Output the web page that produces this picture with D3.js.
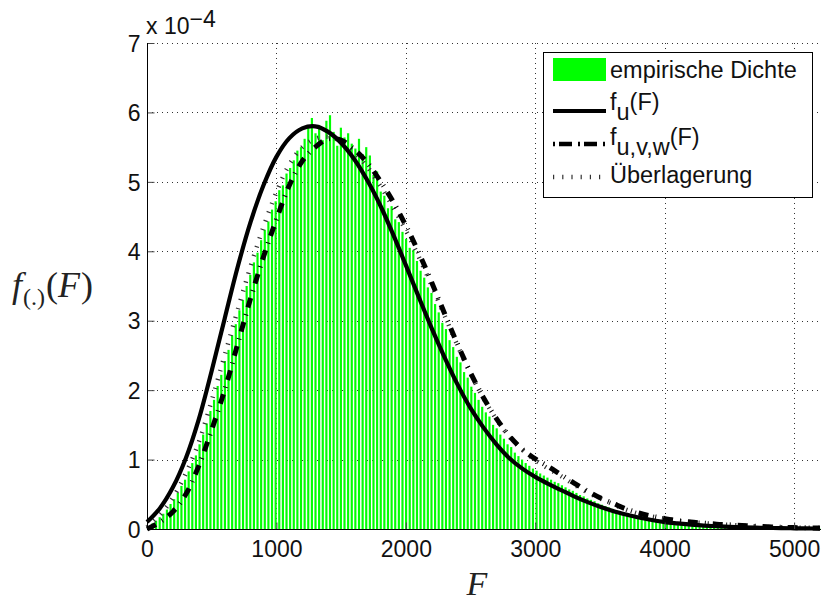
<!DOCTYPE html>
<html>
<head>
<meta charset="utf-8">
<script src="https://cdn.jsdelivr.net/npm/d3@7"></script>
<style>
  body { margin: 0; background: #fff; }
  svg { display: block; }
  .tick text { font-family: "Liberation Sans", Arial, sans-serif; }
</style>
</head>
<body>
<div id="viz-area"></div>
<script>
// values in units of 1e-4
const BIN = 28;   // histogram bin width (F units)
const barValues = [
  0.04,0.08,0.12,0.17,0.22,0.28,0.36,0.43,0.52,0.62,0.71,0.83,0.95,1.06,
  1.22,1.36,1.52,1.70,1.86,2.06,2.22,2.42,2.58,2.79,2.95,3.15,3.30,3.50,3.66,
  3.84,3.98,4.16,4.31,4.43,4.60,4.72,4.88,4.95,5.12,5.20,5.31,5.45,5.50,5.62,
  5.78,5.92,5.70,5.82,5.60,5.88,5.96,5.72,5.52,5.78,5.64,5.70,5.55,5.48,5.62,
  5.40,5.50,5.38,5.10,5.15,4.86,4.80,4.62,4.65,4.46,4.42,4.28,4.18,4.05,4.02,
  3.86,3.72,3.62,3.48,3.40,3.24,3.12,2.97,2.88,2.72,2.62,2.48,2.40,2.26,2.18,
  2.05,1.96,1.86,1.76,1.68,1.62,1.50,1.45,1.36,1.30,1.22,1.18,1.10,1.05,1.00,
  0.95,0.91,0.87,0.84,0.80,0.77,0.74,0.71,0.68,0.66,0.63,0.60,0.57,0.55,0.52,
  0.49,0.47,0.44,0.42,0.40,0.37,0.35,0.33,0.31,0.29,0.27,0.25,0.23,0.22,0.20,
  0.18,0.17,0.16,0.15,0.14,0.13,0.12,0.11,0.10,0.10,0.09,0.09,0.08,0.08,0.07,
  0.07,0.06,0.06,0.05,0.05,0.05,0.04,0.04,
  0.04,0.04,0.03,0.03,0.03,0.03,0.03,0.02,0.02,0.02,0.02,0.02,0.02,0.02,
  0.01,0.01,0.01,0.01,0.01,0.01,0.01,0.01,0.01,0.01,0.01,0.01,0.01,0.01,0.01
];

const curveF = [0,100,200,300,400,500,600,700,800,900,1000,1100,1200,1300,1400,1500,1600,1700,1800,1900,
  2000,2100,2200,2300,2400,2500,2600,2700,2800,2900,3000,3100,3200,3300,3400,3500,3600,3700,3800,3900,
  4000,4100,4200,4300,4400,4500,4600,4700,4800,4900,5000,5100,5200];

const fU = [0.10,0.30,0.60,1.02,1.58,2.28,3.03,3.77,4.42,4.95,5.36,5.63,5.77,5.80,5.72,5.56,5.33,5.03,4.67,4.25,
  3.80,3.34,2.89,2.47,2.08,1.74,1.46,1.22,1.02,0.87,0.75,0.65,0.56,0.47,0.39,0.32,0.26,0.21,0.165,0.13,
  0.10,0.08,0.062,0.05,0.04,0.032,0.025,0.02,0.016,0.012,0.01,0.008,0.006];

const fUVW = [0.00,0.10,0.25,0.50,0.91,1.43,2.00,2.66,3.32,3.92,4.46,4.95,5.30,5.50,5.62,5.60,5.47,5.28,5.02,4.72,
  4.37,3.98,3.55,3.10,2.66,2.25,1.89,1.59,1.34,1.15,1.01,0.90,0.78,0.66,0.55,0.45,0.37,0.29,0.23,0.185,
  0.15,0.12,0.10,0.085,0.07,0.06,0.05,0.04,0.032,0.026,0.021,0.017,0.015];

const fMix = [0.03,0.20,0.45,0.80,1.25,1.85,2.50,3.15,3.78,4.35,4.85,5.25,5.50,5.62,5.65,5.58,5.43,5.22,4.95,4.64,
  4.30,3.92,3.50,3.07,2.64,2.24,1.88,1.58,1.33,1.14,0.99,0.87,0.76,0.64,0.53,0.44,0.36,0.28,0.22,0.18,
  0.15,0.12,0.10,0.085,0.07,0.06,0.05,0.04,0.032,0.026,0.021,0.017,0.015];

const xTicks = [0,1000,2000,3000,4000,5000];
const yTicks = [0,1,2,3,4,5,6,7];
const legendLabels = ["empirische Dichte", "f_u(F)", "f_u,v,w(F)", "Überlagerung"];

const W = 821, H = 601;
const X0 = 147, X1 = 820, Y0 = 529, Y1 = 43;
const SANS = '"Liberation Sans", Arial, Helvetica, sans-serif';
const SERIF = '"Liberation Serif", "Times New Roman", serif';

const svg = d3.select("#viz-area").append("svg").attr("width", W).attr("height", H);

const x = d3.scaleLinear().domain([0, 5200]).range([X0, X1]);
const y = d3.scaleLinear().domain([0, 7]).range([Y0, Y1]);

// grid
const grid = svg.append("g").attr("stroke", "#333").attr("stroke-width", 1).attr("stroke-dasharray", "1,4");
grid.selectAll("line.gy").data(yTicks.slice(1)).enter().append("line")
  .attr("x1", X0).attr("x2", W).attr("y1", d => Math.round(y(d)) + 0.5).attr("y2", d => Math.round(y(d)) + 0.5);
grid.selectAll("line.gx").data(xTicks.slice(1)).enter().append("line")
  .attr("y1", Y1).attr("y2", Y0).attr("x1", d => Math.round(x(d)) + 0.5).attr("x2", d => Math.round(x(d)) + 0.5);

// histogram bars
const binPx = x(BIN) - x(0);
svg.append("g").selectAll("rect").data(barValues).enter().append("rect")
  .attr("x", (d, i) => x(i * BIN) + binPx * 0.2)
  .attr("width", binPx * 0.6)
  .attr("y", d => y(d))
  .attr("height", d => y(0) - y(d))
  .attr("fill", "#00ff00");

// curves
const line = vals => d3.line()
  .x((d, i) => x(curveF[i]))
  .y(d => y(d))
  .curve(d3.curveCatmullRom.alpha(0.5))(vals);

svg.append("path").attr("d", line(fMix)).attr("fill", "none")
  .attr("stroke", "#333").attr("stroke-width", 4.5).attr("stroke-dasharray", "1.2,8");
svg.append("path").attr("d", line(fU)).attr("fill", "none")
  .attr("stroke", "#000").attr("stroke-width", 4.2);
svg.append("path").attr("d", line(fUVW)).attr("fill", "none")
  .attr("stroke", "#000").attr("stroke-width", 5).attr("stroke-dasharray", "10,7,1,7");

// axes
const yAxis = d3.axisLeft(y).tickValues(yTicks).tickSize(-7).tickPadding(7).tickFormat(d3.format("d"));
const xAxis = d3.axisBottom(x).tickValues(xTicks).tickSize(-7).tickPadding(11).tickFormat(d3.format("d"));

const gy = svg.append("g").attr("transform", `translate(${X0 + 0.5},0)`).call(yAxis);
const gx = svg.append("g").attr("transform", `translate(0,${Y0 + 0.5})`).call(xAxis);
[gx, gy].forEach(g => {
  g.select(".domain").remove();
  g.selectAll(".tick line").attr("stroke", "#444");
  g.selectAll(".tick text").attr("font-size", 23).attr("fill", "#111");
});
gy.selectAll(".tick text").attr("dy", "0.36em");
svg.append("line").attr("x1", X0 + 0.5).attr("x2", X0 + 0.5).attr("y1", Y1).attr("y2", Y0 + 1)
  .attr("stroke", "#000");
svg.append("line").attr("x1", X0).attr("x2", W).attr("y1", Y0 + 0.5).attr("y2", Y0 + 0.5)
  .attr("stroke", "#000");

// exponent
const ex = svg.append("text").attr("x", 146).attr("y", 34)
  .attr("font-family", SANS).attr("font-size", 23).attr("fill", "#111");
ex.append("tspan").text("x 10");
ex.append("tspan").attr("dy", -7).text("\u22124");

// axis labels
const yl = svg.append("text").attr("x", 12).attr("y", 297)
  .attr("font-family", SERIF).attr("font-size", 36).attr("fill", "#222");
yl.append("tspan").attr("font-style", "italic").text("f");
yl.append("tspan").attr("font-size", 24).attr("dy", 8).attr("dx", 1).text("(.)");
yl.append("tspan").attr("dy", -8).attr("dx", 1).text("(");
yl.append("tspan").attr("font-style", "italic").text("F");
yl.append("tspan").attr("dx", 1).text(")");

svg.append("text").attr("x", 477).attr("y", 595).attr("text-anchor", "middle")
  .attr("font-family", SERIF).attr("font-size", 34).attr("font-style", "italic").attr("fill", "#222")
  .text("F");

// legend
const lg = svg.append("g");
lg.append("rect").attr("x", 543.5).attr("y", 52.5).attr("width", 269).attr("height", 145)
  .attr("fill", "#fff").attr("stroke", "#000").attr("stroke-width", 1);
lg.append("rect").attr("x", 553).attr("y", 58).attr("width", 53).attr("height", 23).attr("fill", "#00ff00");
lg.append("line").attr("x1", 553).attr("x2", 606).attr("y1", 111).attr("y2", 111)
  .attr("stroke", "#000").attr("stroke-width", 4.2);
lg.append("line").attr("x1", 553).attr("x2", 606).attr("y1", 144).attr("y2", 144)
  .attr("stroke", "#000").attr("stroke-width", 4.5).attr("stroke-dasharray", "2,4,13,6");
lg.append("line").attr("x1", 553).attr("x2", 606).attr("y1", 177).attr("y2", 177)
  .attr("stroke", "#333").attr("stroke-width", 4.5).attr("stroke-dasharray", "1.2,8");

const lt = (yy) => lg.append("text").attr("x", 610).attr("y", yy)
  .attr("font-family", SANS).attr("font-size", 23.5).attr("fill", "#111");
lt(78).text(legendLabels[0]);
const t2 = lt(110);
t2.append("tspan").text("f");
t2.append("tspan").attr("dy", 10).text("u");
t2.append("tspan").attr("dy", -10).text("(F)");
const t3 = lt(145);
t3.append("tspan").text("f");
t3.append("tspan").attr("dy", 10).text("u,v,w");
t3.append("tspan").attr("dy", -10).text("(F)");
lt(183).text(legendLabels[3]);
</script>
</body>
</html>
